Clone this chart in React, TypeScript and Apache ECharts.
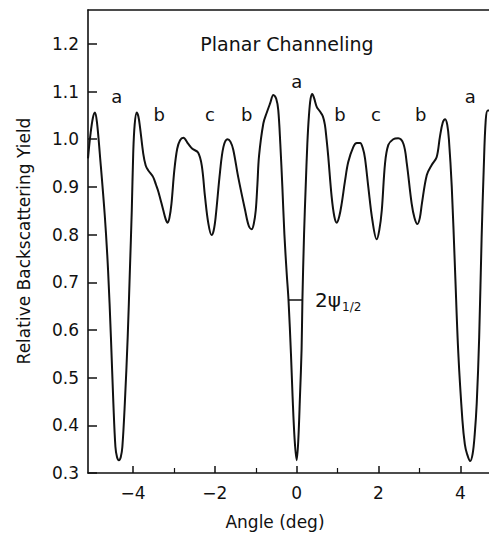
import React, { useEffect, useRef } from "react";
import * as echarts from "echarts";

// Curve: angle (deg) vs relative backscattering yield
const angle: number[] = [
  -5.1, -5.04, -4.98, -4.93, -4.88, -4.81, -4.69, -4.61, -4.54, -4.48, -4.43, -4.39, -4.345, -4.3, -4.26,
  -4.2, -4.13, -4.076, -4.03, -3.995, -3.96, -3.91, -3.87, -3.83, -3.75, -3.69, -3.63, -3.51, -3.44, -3.38, -3.26,
  -3.2, -3.155, -3.11, -3.06, -2.99, -2.92, -2.85, -2.77, -2.65, -2.55, -2.41, -2.32, -2.24, -2.16, -2.08, -2.03,
  -1.98, -1.875, -1.79, -1.69, -1.62, -1.55, -1.43, -1.26, -1.17, -1.1, -1.05, -1.0, -0.96, -0.92, -0.815, -0.73,
  -0.65, -0.57, -0.5, -0.45, -0.4, -0.35, -0.3, -0.245, -0.2, -0.14, -0.1, -0.05, 0.0, 0.04, 0.08, 0.12,
  0.14, 0.18, 0.22, 0.26, 0.3, 0.34, 0.38, 0.43, 0.49, 0.57, 0.64, 0.69, 0.73, 0.77, 0.855, 0.92,
  0.98, 1.04, 1.1, 1.18, 1.26, 1.385, 1.47, 1.55, 1.62, 1.67, 1.75, 1.85, 1.955, 2.02, 2.08, 2.16,
  2.24, 2.36, 2.48, 2.61, 2.69, 2.81, 2.88, 2.95, 3.01, 3.06, 3.18, 3.3, 3.42, 3.5, 3.57, 3.63,
  3.68, 3.72, 3.79, 3.87, 3.95, 4.05, 4.11, 4.16, 4.24, 4.3, 4.35, 4.4, 4.46, 4.52, 4.57, 4.62,
  4.67, 4.7,
];
const yieldValues: number[] = [
  0.96, 1.01, 1.045, 1.056, 1.035, 0.968, 0.84, 0.726, 0.585, 0.446, 0.355, 0.333, 0.327, 0.333, 0.355,
  0.446, 0.585, 0.726, 0.851, 0.97, 1.03, 1.056, 1.048, 1.026, 0.97, 0.945, 0.935, 0.921, 0.905, 0.89, 0.851,
  0.832, 0.825, 0.835, 0.865, 0.935, 0.98, 0.998, 1.003, 0.99, 0.98, 0.972, 0.945, 0.879, 0.824, 0.799, 0.808,
  0.837, 0.93, 0.984, 1.0, 0.995, 0.978, 0.921, 0.851, 0.818, 0.811, 0.822, 0.851, 0.905, 0.965, 1.033, 1.056,
  1.075, 1.093, 1.085, 1.061, 0.99, 0.9, 0.8, 0.72, 0.663, 0.55, 0.46, 0.37, 0.327, 0.37, 0.46, 0.56,
  0.663, 0.8, 0.9, 0.99, 1.05, 1.085, 1.095, 1.085, 1.068, 1.058, 1.048, 1.03, 1.0, 0.965, 0.879, 0.838,
  0.825, 0.838, 0.865, 0.912, 0.952, 0.984, 0.992, 0.992, 0.98, 0.96, 0.9, 0.83, 0.79, 0.81, 0.851, 0.95,
  0.988, 1.0, 1.002, 0.99, 0.95, 0.865, 0.835, 0.822, 0.835, 0.865, 0.925, 0.946, 0.962, 1.005, 1.035, 1.042,
  1.03, 1.0, 0.9, 0.726, 0.551, 0.411, 0.36, 0.341, 0.325, 0.34, 0.38, 0.446, 0.585, 0.795, 0.935, 1.04,
  1.06, 1.06,
];

// Peak labels
const peakNames: string[] = ["a", "b", "c", "b", "a", "b", "c", "b", "a"];
const peakX: number[] = [-4.4, -3.36, -2.12, -1.22, 0.0, 1.06, 1.94, 3.03, 4.24];
const peakY: number[] = [1.089, 1.051, 1.051, 1.051, 1.122, 1.051, 1.051, 1.051, 1.089];

// Half-width marker (2 psi 1/2)
const widthMarkX: number[] = [-0.2, 0.14];
const widthMarkY = 0.663;
const widthLabelX = 0.45;

// Axes
const xMajorTicks: number[] = [-4, -2, 0, 2, 4];
const xMinorTicks: number[] = [-3, -1, 1, 3];
const yTicks: number[] = [0.3, 0.4, 0.5, 0.6, 0.7, 0.8, 0.9, 1.0, 1.1, 1.2];
const xMin = -5.1;
const xMax = 4.7;
const yMin = 0.3;
const yMax = 1.271;

const FONT = '"DejaVu Sans", sans-serif';
const INK = "#111";

export default function App() {
  const ref = useRef<HTMLDivElement>(null);

  useEffect(() => {
    if (!ref.current) return;
    const chart = echarts.init(ref.current, undefined, { renderer: "svg" });
    const curve = angle.map((x, i) => [x, yieldValues[i]]);
    const peaks = peakNames.map((n, i) => ({ name: n, value: [peakX[i], peakY[i]] }));
    const fmtX = (v: number) => String(v).replace("-", "\u2212");

    chart.setOption({
      animation: false,
      backgroundColor: "#fff",
      grid: { left: 88, top: 10, right: 0, bottom: 60, containLabel: false },
      xAxis: [
        {
          type: "value",
          min: xMin,
          max: xMax,
          position: "bottom",
          axisLine: { show: true, onZero: false, lineStyle: { color: INK, width: 1.6 } },
          axisTick: { show: true, inside: true, length: 7, customValues: xMajorTicks, lineStyle: { color: INK, width: 1.5 } },
          axisLabel: {
            customValues: xMajorTicks,
            formatter: fmtX,
            margin: 11,
            color: INK,
            fontSize: 17,
            fontFamily: FONT,
          },
          splitLine: { show: false },
        },
        {
          type: "value",
          min: xMin,
          max: xMax,
          position: "bottom",
          axisLine: { show: false, onZero: false },
          axisTick: { show: true, inside: true, length: 5, customValues: xMinorTicks, lineStyle: { color: INK, width: 1.2 } },
          axisLabel: { show: false },
          splitLine: { show: false },
        },
        {
          type: "value",
          min: xMin,
          max: xMax,
          position: "top",
          axisLine: { show: true, onZero: false, lineStyle: { color: INK, width: 1.6 } },
          axisTick: { show: false },
          axisLabel: { show: false },
          splitLine: { show: false },
        },
      ],
      yAxis: {
        type: "value",
        min: yMin,
        max: yMax,
        axisLine: { show: true, onZero: false, lineStyle: { color: INK, width: 1.6 } },
        axisTick: { show: true, inside: true, length: 9, customValues: yTicks, lineStyle: { color: INK, width: 1.5 } },
        axisLabel: {
          customValues: yTicks,
          formatter: (v: number) => v.toFixed(1),
          margin: 9,
          color: INK,
          fontSize: 17,
          fontFamily: FONT,
        },
        splitLine: { show: false },
      },
      graphic: [
        {
          type: "text",
          x: 287,
          y: 44,
          style: { text: "Planar Channeling", fill: INK, font: `19px ${FONT}`, textAlign: "center", textVerticalAlign: "middle" },
        },
        {
          type: "text",
          x: 275,
          y: 522,
          style: { text: "Angle (deg)", fill: INK, font: `17px ${FONT}`, textAlign: "center", textVerticalAlign: "middle" },
        },
        {
          type: "text",
          x: 24,
          y: 241,
          rotation: Math.PI / 2,
          style: { text: "Relative Backscattering Yield", fill: INK, font: `17px ${FONT}`, textAlign: "center", textVerticalAlign: "middle" },
        },
      ],
      series: [
        {
          type: "line",
          data: curve,
          showSymbol: false,
          smooth: 0.35,
          lineStyle: { color: INK, width: 2 },
          silent: true,
        },
        {
          type: "line",
          data: widthMarkX.map((x) => [x, widthMarkY]),
          showSymbol: false,
          lineStyle: { color: INK, width: 1.5 },
          silent: true,
        },
        {
          type: "scatter",
          data: peaks,
          symbolSize: 0,
          silent: true,
          itemStyle: { color: INK, opacity: 1 },
          label: {
            show: true,
            position: "inside",
            formatter: (p: any) => p.name,
            color: INK,
            opacity: 1,
            textBorderWidth: 0,
            fontSize: 18,
            fontFamily: FONT,
          },
        },
        {
          type: "scatter",
          data: [{ name: "2\u03C8", value: [widthLabelX, widthMarkY] }],
          symbolSize: 0,
          silent: true,
          itemStyle: { color: INK, opacity: 1 },
          label: {
            show: true,
            position: "inside",
            align: "left",
            verticalAlign: "middle",
            opacity: 1,
            textBorderWidth: 0,
            formatter: "{m|2\u03C8}{s|1/2}",
            rich: {
              m: { fontSize: 20, fontFamily: FONT, color: INK, lineHeight: 26, verticalAlign: "middle", textBorderWidth: 0 },
              s: { fontSize: 12, fontFamily: FONT, color: INK, lineHeight: 26, verticalAlign: "bottom", padding: [12, 0, 0, 1], textBorderWidth: 0 },
            },
          },
        },
      ],
    });
    return () => chart.dispose();
  }, []);

  return (
    <div
      ref={ref}
      style={{ position: "absolute", left: 0, top: 0, width: 489, height: 533, background: "#fff" }}
    />
  );
}
